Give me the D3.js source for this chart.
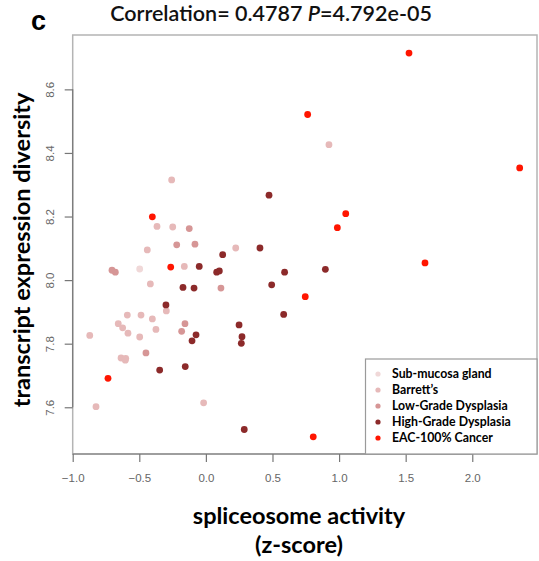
<!DOCTYPE html>
<html>
<head>
<meta charset="utf-8">
<script src="https://cdn.jsdelivr.net/npm/d3@7"></script>
<style>
  body { margin: 0; background: #fff; }
  svg text { font-family: Lato, "Open Sans", sans-serif; }
  .tick-label { font-family: "Liberation Sans", Arial, sans-serif !important; fill: #666; font-size: 11.5px; }
</style>
</head>
<body>
<svg id="chart"></svg>
<script>
// categories and colours
const groups = ['Sub-mucosa gland', "Barrett\u2019s", 'Low-Grade Dysplasia', 'High-Grade Dysplasia', 'EAC-100% Cancer'];
const groupColors = ['#f0d8d8', '#e6b9b9', '#d69696', '#8c2a2a', '#ff1500'];

// spliceosome activity (x) and transcript expression diversity (y), per group
const subX = [-0.497];
const subY = [8.035];

const barrettX = [-0.257, -0.367, -0.249, -0.440, 0.224, -0.162, 0.924, -0.297, -0.590, -0.487, -0.402, -0.658,
  -0.625, -0.375, -0.872, -0.585, -0.497, -0.637, -0.602, -0.605, -0.825, -0.017, -0.417];
const barrettY = [8.315, 8.169, 8.167, 8.095, 8.101, 8.043, 8.426, 7.903, 7.890, 7.890, 7.878, 7.863,
  7.850, 7.845, 7.826, 7.833, 7.821, 7.755, 7.754, 7.748, 7.602, 7.614, 7.988];

const lowX = [-0.125, -0.219, -0.082, -0.705, -0.680, 0.113, -0.157, -0.182, -0.450];
const lowY = [8.162, 8.111, 8.113, 8.031, 8.025, 7.975, 7.863, 7.839, 7.771];

const highX = [0.406, 0.126, -0.050, 0.081, 0.101, -0.172, -0.089, -0.300, 0.249, -0.074, 0.271, -0.104,
  0.266, -0.347, -0.155, 0.288, 0.474, 0.591, 0.897, 0.494, 0.584];
const highY = [8.101, 8.080, 8.043, 8.025, 8.029, 7.977, 7.975, 7.922, 7.859, 7.828, 7.822, 7.809,
  7.801, 7.717, 7.728, 7.530, 8.267, 8.025, 8.034, 7.985, 7.892];

const eacX = [-0.402, -0.264, -0.735, 1.050, 0.987, 0.746, 1.525, 0.764, 2.356, 1.645, 0.806];
const eacY = [8.199, 8.041, 7.691, 8.209, 8.165, 7.948, 8.714, 8.521, 8.353, 8.054, 7.507];

const xTicks = [-1.0, -0.5, 0.0, 0.5, 1.0, 1.5, 2.0];
const yTicks = [7.6, 7.8, 8.0, 8.2, 8.4, 8.6];

const seriesX = [subX, barrettX, lowX, highX, eacX];
const seriesY = [subY, barrettY, lowY, highY, eacY];
const points = [];
seriesX.forEach((xs, g) => xs.forEach((x, i) => points.push({x: x, y: seriesY[g][i], g: g})));

const width = 539, height = 561;
const plot = {left: 72.7, right: 537, top: 35, bottom: 454};

const svg = d3.select('#chart')
    .attr('width', width)
    .attr('height', height);

const xScale = d3.scaleLinear()
    .domain([-1, 2.486])
    .range([plot.left, plot.right]);

const yScale = d3.scaleLinear()
    .domain([7.453, 8.771])
    .range([plot.bottom, plot.top]);

// frame
svg.append('rect')
    .attr('x', plot.left)
    .attr('y', plot.top)
    .attr('width', plot.right - plot.left)
    .attr('height', plot.bottom - plot.top)
    .attr('fill', 'none')
    .attr('stroke', '#b4b4b4')
    .attr('stroke-width', 1.5);

// axes, R style: line only from first to last tick
const xAxisG = svg.append('g')
    .attr('transform', `translate(0,${plot.bottom})`)
    .call(d3.axisBottom(xScale).tickValues(xTicks).tickSize(8).tickPadding(12).tickFormat(d3.format('.1f')));
xAxisG.select('.domain').remove();
xAxisG.append('line')
    .attr('x1', xScale(xTicks[0])).attr('x2', xScale(xTicks[xTicks.length - 1]))
    .attr('stroke', '#777').attr('stroke-width', 1.2);
xAxisG.selectAll('.tick line').attr('stroke', '#777').attr('stroke-width', 1.2);
xAxisG.selectAll('.tick text').attr('class', 'tick-label');

const yAxisG = svg.append('g')
    .attr('transform', `translate(${plot.left},0)`)
    .call(d3.axisLeft(yScale).tickValues(yTicks).tickSize(8).tickFormat(d3.format('.1f')));
yAxisG.select('.domain').remove();
yAxisG.append('line')
    .attr('y1', yScale(yTicks[0])).attr('y2', yScale(yTicks[yTicks.length - 1]))
    .attr('stroke', '#777').attr('stroke-width', 1.2);
yAxisG.selectAll('.tick line').attr('stroke', '#777').attr('stroke-width', 1.2);
yAxisG.selectAll('.tick text')
    .attr('class', 'tick-label')
    .attr('x', null).attr('dy', null)
    .attr('text-anchor', 'middle')
    .attr('transform', 'translate(-19,0) rotate(-90)');

// points
svg.append('g')
  .selectAll('circle')
  .data(points)
  .join('circle')
    .attr('cx', d => xScale(d.x))
    .attr('cy', d => yScale(d.y))
    .attr('r', 3.4)
    .attr('fill', d => groupColors[d.g]);

// legend
const legend = {x: 365.5, y: 359, w: 171.5, h: 95};
const legendG = svg.append('g');
legendG.append('rect')
    .attr('x', legend.x).attr('y', legend.y)
    .attr('width', legend.w).attr('height', legend.h)
    .attr('fill', '#fff')
    .attr('stroke', '#9a9a9a')
    .attr('stroke-width', 1.2);
const rows = legendG.selectAll('g.row')
  .data(groups)
  .join('g')
    .attr('class', 'row')
    .attr('transform', (d, i) => `translate(${legend.x + 12.5},${legend.y + 15 + i * 16})`);
rows.append('circle')
    .attr('r', 2.6)
    .attr('fill', (d, i) => groupColors[i]);
rows.append('text')
    .attr('x', 14)
    .attr('dy', '0.35em')
    .style('font-size', '12.3px')
    .style('font-weight', 'bold')
    .text(d => d);

// titles
svg.append('text')
    .attr('x', 31).attr('y', 30)
    .style('font-family', '"Liberation Sans", Arial, sans-serif')
    .style('font-size', '27px')
    .style('font-weight', 'bold')
    .text('c');

const title = svg.append('text')
    .attr('x', 271).attr('y', 21)
    .attr('text-anchor', 'middle')
    .style('font-size', '21.5px')
    .style('font-weight', 600)
    .attr('fill', '#111');
title.append('tspan').text('Correlation= 0.4787 ');
title.append('tspan').style('font-style', 'italic').text('P');
title.append('tspan').text('=4.792e-05');

svg.append('text')
    .attr('transform', 'translate(30,250) rotate(-90)')
    .attr('text-anchor', 'middle')
    .style('font-size', '23.5px')
    .style('font-weight', 'bold')
    .text('transcript expression diversity');

svg.append('text')
    .attr('x', 299).attr('y', 524)
    .attr('text-anchor', 'middle')
    .style('font-size', '23.5px')
    .style('font-weight', 'bold')
    .text('spliceosome activity');

svg.append('text')
    .attr('x', 299).attr('y', 553)
    .attr('text-anchor', 'middle')
    .style('font-size', '23.5px')
    .style('font-weight', 'bold')
    .text('(z-score)');
</script>
</body>
</html>
